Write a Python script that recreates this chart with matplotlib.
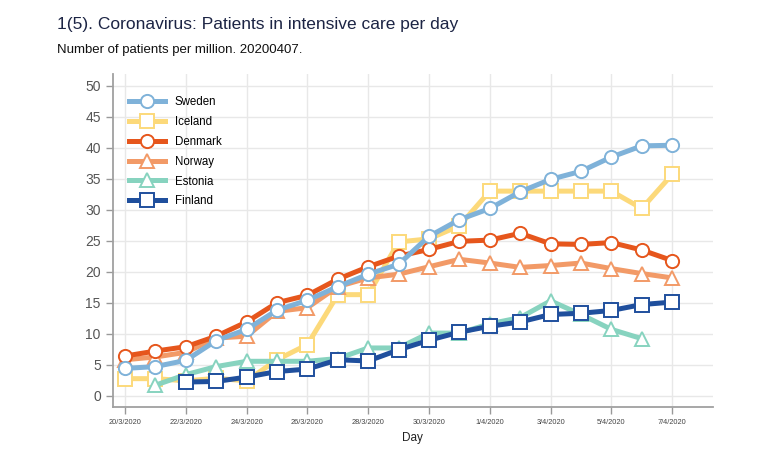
import matplotlib.pyplot as plt
import matplotlib.dates as mdates
import numpy as np
import pandas as pd

plt.rcParams['font.family'] = ['Liberation Sans', 'DejaVu Sans']

# data, one value per day from 20/3 to 7/4
days = pd.date_range('2020-03-20', '2020-04-07', freq='D')
nan = np.nan
sweden = [4.4, 4.7, 5.7, 8.9, 10.7, 13.8, 15.4, 17.6, 19.6, 21.2, 25.7, 28.4,
          30.2, 32.9, 34.9, 36.2, 38.5, 40.3, 40.4]
iceland = [2.75, 2.75, 2.4, 2.8, 2.4, 5.8, 8.25, 16.3, 16.3, 24.8, 25.3, 27.4,
           33.0, 33.0, 33.0, 33.0, 33.0, 30.2, 35.7]
denmark = [6.4, 7.2, 7.9, 9.6, 11.9, 15.0, 16.2, 18.8, 20.8, 22.5, 23.6, 24.9,
           25.1, 26.2, 24.5, 24.4, 24.7, 23.5, 21.8]
norway = [5.8, 6.25, 7.0, 9.3, 9.6, 13.6, 14.2, 17.6, 19.0, 19.6, 20.8, 22.0,
          21.4, 20.7, 21.0, 21.4, 20.5, 19.7, 19.0]
estonia = [nan, 1.7, 3.4, 4.7, 5.55, 5.55, 5.55, 6.0, 7.7, 7.7, 10.1, 10.1,
           11.6, 12.6, 15.3, 13.1, 10.7, 9.2, nan]
finland = [nan, nan, 2.2, 2.3, 3.0, 3.9, 4.3, 5.8, 5.6, 7.4, 8.95, 10.25,
           11.2, 11.9, 13.1, 13.3, 13.75, 14.7, 15.1]

fig = plt.figure(figsize=(7.68, 4.51), dpi=100)
ax = fig.add_axes([0.1467, 0.0965, 0.7813, 0.7395])

series = [
    ('Sweden', sweden, '#7fb2d9', 'o', 5),
    ('Iceland', iceland, '#fcd97a', 's', 1),
    ('Denmark', denmark, '#e6561c', 'o', 3),
    ('Norway', norway, '#f29a67', '^', 2),
    ('Estonia', estonia, '#87d3bf', '^', 4),
    ('Finland', finland, '#1f4f9d', 's', 6),
]
for name, vals, col, mk, z in series:
    ax.plot(days, vals, color=col, lw=3.6, marker=mk, ms=9.5,
            mfc='white', mec=col, mew=1.4, label=name, zorder=z)

ax.set_ylim(-1.9, 51.9)
ax.set_xlim(days[0] - pd.Timedelta(hours=9.8), days[-1] + pd.Timedelta(hours=32))
ax.set_yticks(np.arange(0, 51, 5))
ax.set_xticks(days[::2])
ax.xaxis.set_major_formatter(mdates.DateFormatter('%-d/%-m/%Y'))
ax.tick_params(axis='x', labelsize=5.3, colors='#999999', labelcolor='#444444',
               length=5, width=1)
ax.tick_params(axis='y', labelsize=10, colors='#999999', labelcolor='#555555',
               length=5, width=1)
ax.grid(True, color='#e8e8e8', lw=1)
ax.set_axisbelow(True)
for s in ['top', 'right']:
    ax.spines[s].set_visible(False)
for s in ['left', 'bottom']:
    ax.spines[s].set_color('#a0a0a0')
    ax.spines[s].set_linewidth(1.3)
ax.set_xlabel('Day', fontsize=8.5, color='#222222', labelpad=4)

leg = ax.legend(loc='upper left', bbox_to_anchor=(0.008, 0.968), frameon=False,
                fontsize=8.3, handlelength=3.1, labelspacing=0.68, handletextpad=0.85,
                borderaxespad=0.6)

fig.text(0.074, 0.935, '1(5). Coronavirus: Patients in intensive care per day',
         fontsize=12.5, color='#1c2444')
fig.text(0.074, 0.883, 'Number of patients per million. 20200407.',
         fontsize=9.5, color='#111111')

fig.savefig('out.png', dpi=100)
